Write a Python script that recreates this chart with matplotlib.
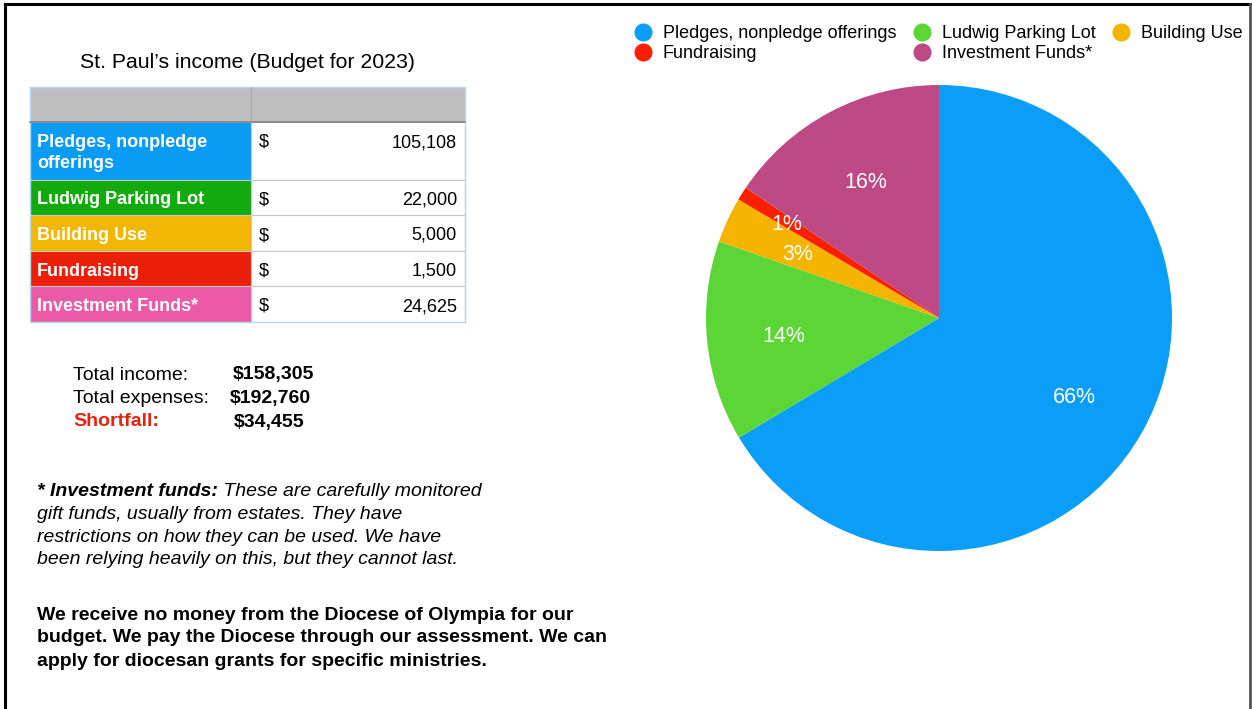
import numpy as np
import matplotlib
matplotlib.use('Agg')
import matplotlib.pyplot as plt
from matplotlib.patches import Rectangle
from matplotlib.lines import Line2D

plt.rcParams['font.family'] = ['Liberation Sans', 'DejaVu Sans']

# data
categories = ['Pledges, nonpledge offerings', 'Ludwig Parking Lot', 'Building Use',
              'Fundraising', 'Investment Funds*']
table_labels = ['Pledges, nonpledge\nofferings', 'Ludwig Parking Lot', 'Building Use',
                'Fundraising', 'Investment Funds*']
amounts = [105108, 22000, 5000, 1500, 24625]
totals_labels = ['Total income:', 'Total expenses:', 'Shortfall:']
totals_values = ['$158,305', '$192,760', '$34,455']

pie_colors = ['#0a9ef9', '#5cd637', '#f5b400', '#fd2000', '#bd4a84']
table_colors = ['#0a9bf5', '#12aa0e', '#f2b705', '#ea1f0a', '#ea5aa6']

W, H = 1252, 709
fig = plt.figure(figsize=(W / 100, H / 100), dpi=100)
bg = fig.add_axes([0, 0, 1, 1])
bg.set_xlim(0, W)
bg.set_ylim(H, 0)
bg.axis('off')

# frame
bg.add_line(Line2D([5, 1250], [4, 4], color='black', lw=2.2))
bg.add_line(Line2D([5, 5], [4, H], color='black', lw=2.2))
bg.add_line(Line2D([1250, 1250], [4, H], color='#555555', lw=2))

# title
bg.text(247, 63, 'St. Paul\u2019s income (Budget for 2023)', fontsize=15.3,
        ha='center', va='center')

# table
x0, xs, x1 = 30, 251, 465
y = 87
bg.add_patch(Rectangle((x0, y), x1 - x0, 35, facecolor='#bebebe', edgecolor='none'))
bg.add_line(Line2D([xs, xs], [y, y + 35], color='#a8a8a8', lw=0.8))
y += 35
for lab, amt, col in zip(table_labels, amounts, table_colors):
    h = 35.5 + 22 * lab.count('\n')
    bg.add_patch(Rectangle((x0, y), xs - x0, h, facecolor=col, edgecolor='#c8c8c8', lw=0.8))
    bg.add_patch(Rectangle((xs, y), x1 - xs, h, facecolor='white', edgecolor='#c8c8c8', lw=0.8))
    bg.text(37, y + 12, lab, color='white', fontsize=13, fontweight='bold',
            va='top', ha='left', linespacing=1.28)
    bg.text(259, y + 12, '$', fontsize=13, va='top', ha='left')
    bg.text(457, y + 12, f'{amt:,}', fontsize=13, va='top', ha='right')
    y += h
bg.add_line(Line2D([x0, x1], [122, 122], color='#808080', lw=1.2))
bg.add_patch(Rectangle((x0, 87), x1 - x0, y - 87, facecolor='none',
                       edgecolor='#b5d8f0', lw=1))

# totals
value_x = [233, 230, 234]
for i, (lab, val) in enumerate(zip(totals_labels, totals_values)):
    yy = 373 + 23.5 * i
    red = lab.startswith('Shortfall')
    bg.text(73, yy, lab, fontsize=14, va='center_baseline', ha='left',
            color='#e8210e' if red else 'black', fontweight='bold' if red else 'normal')
    bg.text(value_x[i], yy, val, fontsize=14, va='center_baseline', ha='left',
            fontweight='bold')

# footnote
note_lines = ['gift funds, usually from estates. They have',
              'restrictions on how they can be used. We have',
              'been relying heavily on this, but they cannot last.']
t1 = bg.text(37, 490, '* Investment funds:', fontsize=14, fontstyle='italic',
             fontweight='bold', va='center_baseline', ha='left')
bg.annotate(' These are carefully monitored', xy=(1, 0), xycoords=t1,
            fontsize=14, fontstyle='italic', va='bottom', ha='left')
for i, line in enumerate(note_lines):
    bg.text(37, 512.5 + 22.7 * i, line, fontsize=14, fontstyle='italic',
            va='center_baseline', ha='left')

diocese_lines = ['We receive no money from the Diocese of Olympia for our',
                 'budget. We pay the Diocese through our assessment. We can',
                 'apply for diocesan grants for specific ministries.']
for i, line in enumerate(diocese_lines):
    bg.text(37, 613 + 23 * i, line, fontsize=14, fontweight='bold',
            va='center_baseline', ha='left')

# pie
cx, cy, r = 939, 318, 233
ax = fig.add_axes([(cx - r) / W, (H - cy - r) / H, 2 * r / W, 2 * r / H])
wedges, texts, autotexts = ax.pie(amounts, colors=pie_colors, startangle=90,
                                  counterclock=False, autopct='%1.0f%%',
                                  pctdistance=0.67,
                                  textprops=dict(color='white', fontsize=15.5))
# small slice label sits a bit further out
for w, t in zip(wedges, autotexts):
    t.set_va('center_baseline')
    if w.theta2 - w.theta1 < 5:
        ang = np.deg2rad((w.theta1 + w.theta2) / 2)
        t.set_position((0.77 * np.cos(ang), 0.77 * np.sin(ang)))
ax.set_xlim(-1, 1)
ax.set_ylim(-1, 1)

# legend
handles = [Line2D([], [], marker='o', ls='none', markersize=12, color=c) for c in pie_colors]
order = [0, 3, 1, 4, 2]
fig.legend([handles[i] for i in order], [categories[i] for i in order],
           ncol=3, loc='upper right', bbox_to_anchor=(1250 / W, 1 - 18 / H),
           frameon=False, fontsize=13, handletextpad=0.6, columnspacing=0.92,
           labelspacing=0.15, borderaxespad=0, handlelength=1.0)

fig.savefig('out.png', dpi=100)
